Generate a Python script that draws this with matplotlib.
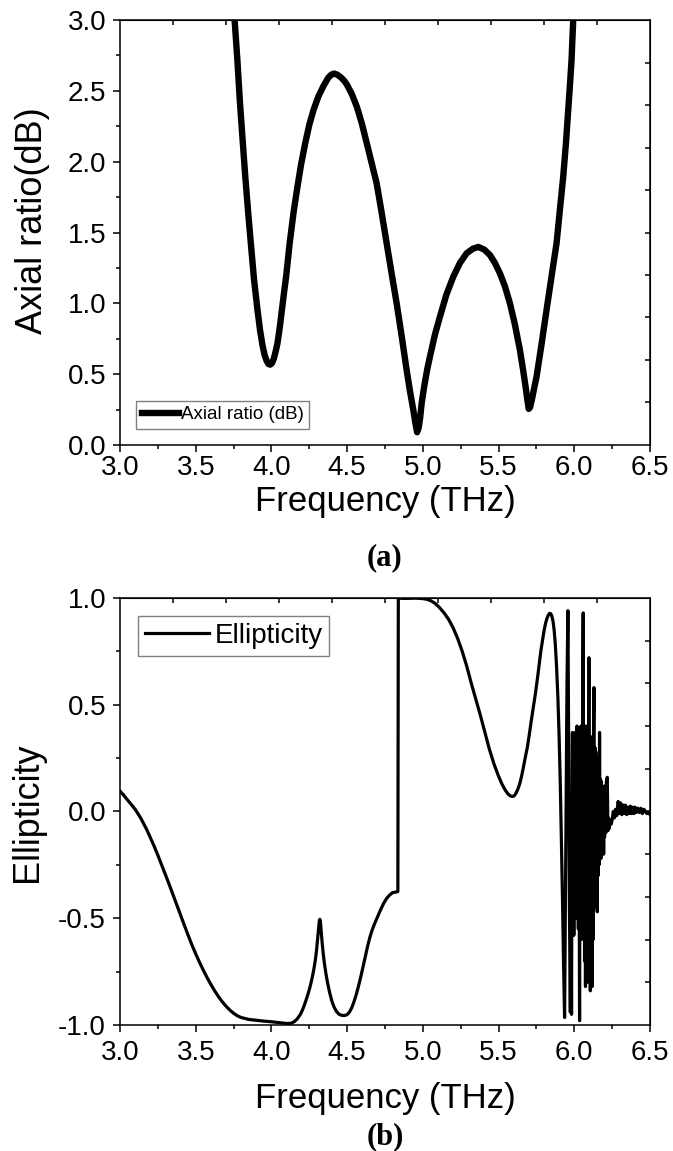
import matplotlib
matplotlib.use("Agg")
import matplotlib.pyplot as plt
import numpy as np
from matplotlib.ticker import MultipleLocator, FormatStrFormatter, NullFormatter

plt.rcParams["font.family"] = ["Liberation Sans", "DejaVu Sans"]
plt.rcParams["axes.unicode_minus"] = False

# (a) axial ratio
ar_freq = [3.748, 3.757, 3.775, 3.792, 3.810, 3.827, 3.845, 3.864, 3.885, 3.908, 3.925,
           3.940, 3.955, 3.968, 3.980, 3.992, 4.004, 4.016, 4.028, 4.040, 4.055, 4.070,
           4.085, 4.097, 4.120, 4.146, 4.170, 4.195, 4.223, 4.250, 4.278, 4.310, 4.344,
           4.375, 4.395, 4.414, 4.435, 4.460, 4.480, 4.498, 4.530, 4.564, 4.597, 4.630,
           4.662, 4.695, 4.728, 4.761, 4.794, 4.827, 4.860, 4.893, 4.915, 4.937, 4.950,
           4.962, 4.972, 4.982, 4.992, 5.010, 5.030, 5.047, 5.080, 5.113, 5.155, 5.201,
           5.245, 5.289, 5.330, 5.366, 5.405, 5.443, 5.476, 5.509, 5.542, 5.575, 5.608,
           5.641, 5.662, 5.680, 5.690, 5.699, 5.708, 5.720, 5.735, 5.751, 5.785, 5.817,
           5.850, 5.883, 5.905, 5.927, 5.945, 5.960, 5.972, 5.982, 5.993, 5.998]
ar_db = [3.150, 3.000, 2.720, 2.420, 2.150, 1.900, 1.660, 1.424, 1.170, 0.953, 0.810,
         0.710, 0.635, 0.595, 0.572, 0.567, 0.578, 0.610, 0.660, 0.718, 0.830, 0.960,
         1.090, 1.188, 1.420, 1.640, 1.810, 1.975, 2.129, 2.260, 2.365, 2.460, 2.535,
         2.592, 2.614, 2.622, 2.614, 2.594, 2.572, 2.545, 2.480, 2.388, 2.270, 2.129,
         1.990, 1.847, 1.640, 1.424, 1.210, 1.000, 0.770, 0.529, 0.380, 0.247, 0.160,
         0.090, 0.120, 0.190, 0.294, 0.420, 0.540, 0.624, 0.780, 0.906, 1.060, 1.188,
         1.285, 1.353, 1.385, 1.398, 1.380, 1.341, 1.285, 1.212, 1.120, 1.000, 0.850,
         0.671, 0.530, 0.400, 0.320, 0.255, 0.265, 0.320, 0.400, 0.482, 0.720, 0.953,
         1.190, 1.424, 1.660, 1.894, 2.130, 2.365, 2.550, 2.718, 3.000, 3.150]

# (b) ellipticity
el_freq = [3.000, 3.020, 3.040, 3.060, 3.080, 3.100, 3.120, 3.140, 3.160, 3.180, 3.200,
           3.225, 3.250, 3.275, 3.300, 3.325, 3.350, 3.375, 3.400, 3.425, 3.450, 3.475,
           3.500, 3.525, 3.550, 3.575, 3.600, 3.625, 3.650, 3.675, 3.700, 3.725, 3.750,
           3.775, 3.800, 3.850, 3.900, 3.950, 4.000, 4.050, 4.100, 4.130, 4.150, 4.170,
           4.190, 4.205, 4.220, 4.235, 4.250, 4.260, 4.270, 4.280, 4.290, 4.298, 4.305,
           4.311, 4.316, 4.320, 4.324, 4.329, 4.335, 4.342, 4.350, 4.360, 4.370, 4.385,
           4.400, 4.415, 4.430, 4.445, 4.460, 4.480, 4.500, 4.515, 4.530, 4.545, 4.560,
           4.575, 4.590, 4.605, 4.620, 4.635, 4.650, 4.665, 4.680, 4.700, 4.720, 4.740,
           4.760, 4.780, 4.800, 4.818, 4.835, 4.838, 4.860, 4.900, 4.950, 5.000, 5.030,
           5.055, 5.080, 5.110, 5.140, 5.170, 5.200, 5.230, 5.260, 5.290, 5.320, 5.350,
           5.380, 5.410, 5.440, 5.470, 5.500, 5.520, 5.540, 5.560, 5.575, 5.590, 5.603,
           5.615, 5.628, 5.640, 5.652, 5.665, 5.677, 5.690, 5.702, 5.715, 5.730, 5.745,
           5.758, 5.770, 5.780, 5.790, 5.800, 5.810, 5.820, 5.830, 5.838, 5.845, 5.852,
           5.860, 5.867, 5.875, 5.883, 5.892, 5.900, 5.908, 5.915, 5.922, 5.929, 5.936,
           5.942, 5.947, 5.952, 5.958, 5.963, 5.968, 5.974, 5.978, 5.982, 5.985, 5.988,
           5.991, 5.994, 5.997, 6.000, 6.003, 6.006, 6.009, 6.012, 6.015, 6.018, 6.021,
           6.024, 6.027, 6.030, 6.035, 6.038, 6.041, 6.044, 6.047, 6.050, 6.053, 6.056,
           6.059, 6.062, 6.065, 6.068, 6.071, 6.074, 6.077, 6.080, 6.083, 6.086, 6.089,
           6.092, 6.095, 6.097, 6.100, 6.103, 6.106, 6.109, 6.112, 6.115, 6.118, 6.121,
           6.124, 6.127, 6.130, 6.133, 6.136, 6.139, 6.142, 6.145, 6.148, 6.152, 6.155,
           6.158, 6.161, 6.164, 6.167, 6.170, 6.173, 6.176, 6.179, 6.182, 6.185, 6.188,
           6.191, 6.194, 6.197, 6.200, 6.204, 6.208, 6.212, 6.218, 6.222, 6.226, 6.230,
           6.236, 6.243, 6.250, 6.258, 6.265, 6.272, 6.280, 6.290, 6.298, 6.306, 6.314,
           6.322, 6.330, 6.338, 6.346, 6.354, 6.362, 6.370, 6.378, 6.386, 6.394, 6.402,
           6.410, 6.420, 6.430, 6.440, 6.450, 6.460, 6.470, 6.480, 6.490, 6.500]
el_val = [0.095, 0.080, 0.062, 0.045, 0.028, 0.010, -0.012, -0.035, -0.062, -0.090, -0.122,
          -0.162, -0.205, -0.250, -0.296, -0.342, -0.390, -0.438, -0.486, -0.533, -0.580, -0.625,
          -0.667, -0.706, -0.743, -0.778, -0.810, -0.840, -0.867, -0.891, -0.912, -0.930, -0.945,
          -0.957, -0.965, -0.974, -0.978, -0.982, -0.985, -0.989, -0.993, -0.992, -0.985, -0.972,
          -0.952, -0.930, -0.902, -0.870, -0.835, -0.807, -0.776, -0.740, -0.696, -0.650, -0.598,
          -0.550, -0.515, -0.505, -0.520, -0.565, -0.615, -0.665, -0.712, -0.760, -0.800, -0.850,
          -0.890, -0.918, -0.937, -0.949, -0.954, -0.956, -0.952, -0.940, -0.920, -0.892, -0.858,
          -0.818, -0.775, -0.728, -0.680, -0.632, -0.590, -0.556, -0.528, -0.495, -0.462, -0.432,
          -0.408, -0.392, -0.380, -0.378, -0.375, 1.000, 0.998, 0.998, 0.999, 0.997, 0.993,
          0.986, 0.975, 0.955, 0.930, 0.900, 0.860, 0.810, 0.750, 0.680, 0.600, 0.525,
          0.450, 0.370, 0.290, 0.222, 0.165, 0.132, 0.105, 0.084, 0.074, 0.070, 0.073,
          0.085, 0.105, 0.130, 0.165, 0.210, 0.255, 0.300, 0.355, 0.420, 0.490, 0.560,
          0.630, 0.700, 0.755, 0.800, 0.845, 0.880, 0.905, 0.922, 0.928, 0.926, 0.915,
          0.890, 0.850, 0.780, 0.680, 0.530, 0.350, 0.120, -0.130, -0.400, -0.700, -0.965,
          -0.400, 0.100, 0.600, 0.940, 0.300, -0.450, -0.940, -0.300, -0.950, 0.000, 0.370,
          -0.400, 0.300, -0.580, 0.200, -0.500, 0.370, -0.450, 0.360, -0.500, 0.400, -0.400,
          0.380, -0.550, 0.300, -0.980, 0.100, -0.550, 0.400, -0.600, 0.380, -0.500, 0.600,
          0.930, -0.400, 0.380, -0.700, 0.350, -0.820, 0.400, -0.750, 0.350, -0.800, 0.400,
          -0.600, 0.450, 0.720, -0.700, 0.300, -0.840, 0.350, -0.750, 0.300, -0.820, 0.250,
          -0.600, 0.350, 0.580, -0.450, 0.300, -0.400, 0.280, -0.450, 0.250, -0.470, 0.200,
          -0.300, 0.250, -0.250, 0.370, -0.200, 0.150, -0.220, 0.140, -0.200, 0.120, -0.180,
          0.100, -0.200, 0.100, -0.120, 0.120, -0.100, 0.140, 0.160, -0.090, -0.030, -0.080,
          -0.040, -0.060, -0.040, 0.000, -0.030, 0.010, -0.020, 0.047, -0.010, 0.040, -0.015,
          0.030, -0.010, 0.030, -0.015, 0.020, -0.010, 0.025, -0.010, 0.020, -0.010, 0.020,
          -0.005, 0.015, -0.005, 0.015, -0.010, 0.010, 0.000, -0.010, -0.005, -0.015]

fig = plt.figure(figsize=(6.73, 11.51), dpi=100)
ax_a = fig.add_axes([0.1783, 0.6134, 0.7875, 0.3692])
ax_b = fig.add_axes([0.1783, 0.1095, 0.7875, 0.3710])


def habiller(ax, ylim, pas_droite, ylabel, pad_x, ylab_xy, xlab_y):
    ax.set_xlim(3.0, 6.5)
    ax.set_ylim(*ylim)
    ax.xaxis.set_major_locator(MultipleLocator(0.5))
    ax.xaxis.set_minor_locator(MultipleLocator(0.25))
    ax.yaxis.set_major_locator(MultipleLocator(0.5))
    ax.yaxis.set_minor_locator(MultipleLocator(0.25))
    ax.xaxis.set_major_formatter(FormatStrFormatter("%.1f"))
    ax.yaxis.set_major_formatter(FormatStrFormatter("%.1f"))
    ax.tick_params(which="both", direction="out", top=False, right=False, width=1.1,
                   labelsize=20)
    ax.tick_params(which="major", length=5)
    ax.tick_params(which="minor", length=3.2)
    ax.tick_params(axis="x", which="major", pad=pad_x)
    ax.tick_params(axis="y", which="major", pad=5)
    for s in ax.spines.values():
        s.set_linewidth(1.1)
    # axes haut / droite d'Origin : graduations internes sur une autre échelle
    haut = ax.secondary_xaxis("top")
    haut.set_xticks(np.arange(3.35, 6.3, 0.35))
    haut.xaxis.set_major_formatter(NullFormatter())
    haut.tick_params(direction="in", length=3.5, width=1.1)
    droite = ax.secondary_yaxis("right")
    droite.set_yticks(np.arange(ylim[0] + pas_droite, ylim[1] - 1e-6, pas_droite))
    droite.yaxis.set_major_formatter(NullFormatter())
    droite.tick_params(direction="in", length=3.5, width=1.1)
    ax.set_xlabel("Frequency (THz)", fontsize=25)
    ax.xaxis.set_label_coords(0.5, xlab_y)
    ax.set_ylabel(ylabel, fontsize=26)
    ax.yaxis.set_label_coords(*ylab_xy)


ax_a.plot(ar_freq, ar_db, color="black", lw=4.6, label="Axial ratio (dB)")
habiller(ax_a, (0.0, 3.0), 0.3, "Axial ratio(dB)", 2.5, (-0.133, 0.527), -0.094)
ax_a.legend(loc="lower left", bbox_to_anchor=(16 / 530, 16 / 425), borderaxespad=0,
            fontsize=13.5, fancybox=False, edgecolor="gray", framealpha=1,
            handlelength=2.0, handletextpad=0.1, borderpad=0.3)

ax_b.plot(el_freq, el_val, color="black", lw=2.3, label="Ellipticity")
habiller(ax_b, (-1.0, 1.0), 0.2, "Ellipticity", 6.0, (-0.141, 0.499), -0.133)
ax_b.legend(loc="upper left", bbox_to_anchor=(18 / 530, 1 - 18 / 427), borderaxespad=0,
            fontsize=20, fancybox=False, edgecolor="gray", framealpha=1,
            handlelength=2.3, handletextpad=0.2, borderpad=0.25)

fig.text(0.572, 1 - 558 / 1151, "(a)", ha="center", va="center", fontsize=22,
         fontweight="bold", family=["Liberation Serif", "DejaVu Serif"])
fig.text(0.572, 1 - 1137 / 1151, "(b)", ha="center", va="center", fontsize=22,
         fontweight="bold", family=["Liberation Serif", "DejaVu Serif"])

fig.savefig("out.png", dpi=100, facecolor="white")
